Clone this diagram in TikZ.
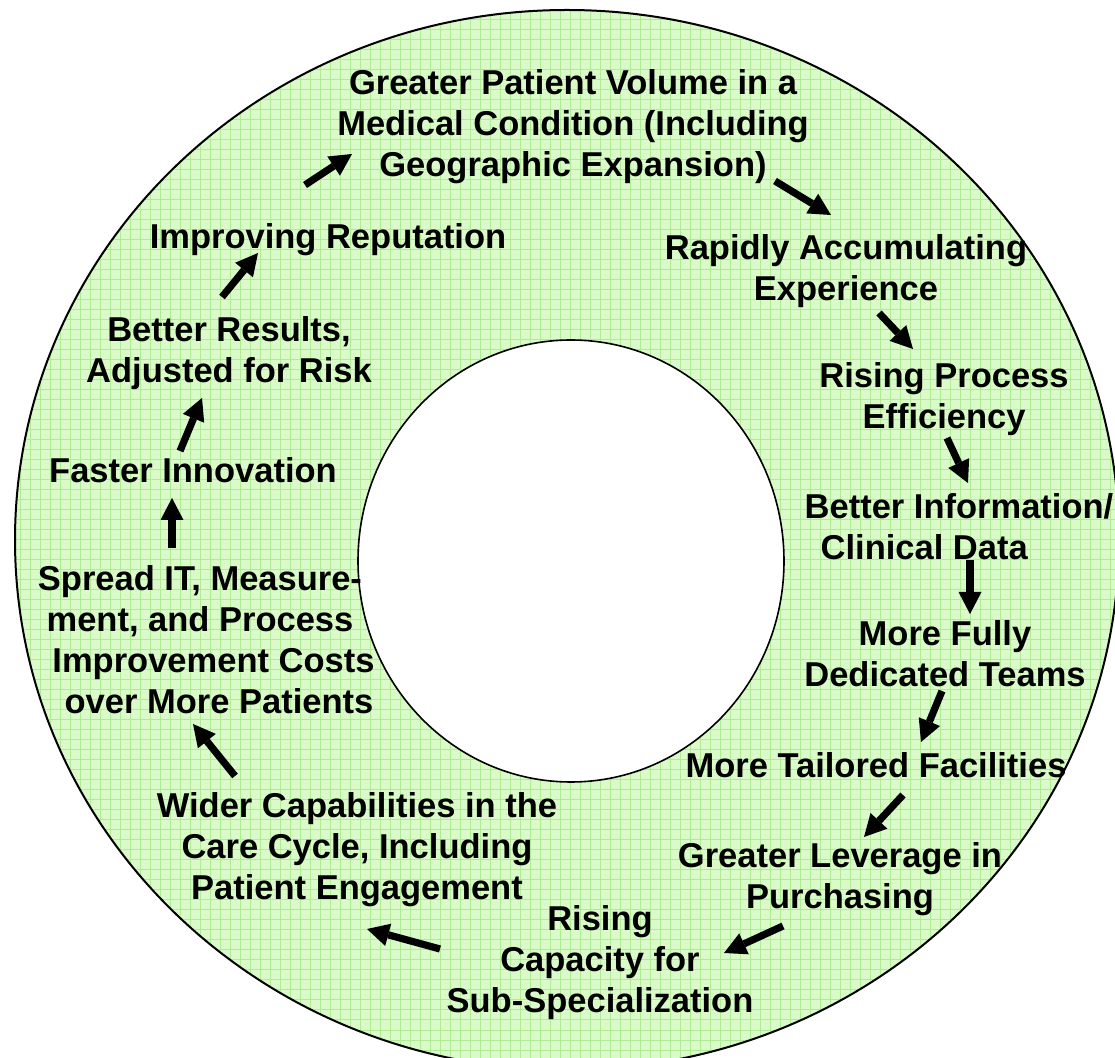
\documentclass[tikz,border=0pt]{standalone}
\usepackage{fontspec}
\setmainfont{Liberation Sans}
\usetikzlibrary{arrows.meta}
\definecolor{ringbg}{RGB}{218,250,202}
\definecolor{ringgrid}{RGB}{176,236,148}
\begin{document}
\begin{tikzpicture}[x=0.5pt,y=-0.5pt,
	txt/.style={shape=rectangle,inner sep=0pt,align=center,font=\fontsize{17.25}{20.5}\selectfont\bfseries},
	flow/.style={line width=3.6pt,-{Triangle[length=11pt,width=11.5pt,line width=0pt]}}]
	\clip (0,0) rectangle (1115,1058);
	\begin{scope}
		\clip (567,540) ellipse [x radius=276pt,y radius=265pt];
		\fill[ringbg] (0,0) rectangle (1115,1058);
		\draw[ringgrid,line width=0.5pt] (0,0) grid[step=5pt] (1115,1058);
	\end{scope}
	\draw[line width=1pt] (567,540) ellipse [x radius=276pt,y radius=265pt];
	\filldraw[fill=white,line width=0.8pt] (571,561) ellipse [x radius=106.5pt,y radius=110.5pt];
	\node[txt](a) at (573,127) {Greater Patient Volume in a\\Medical Condition (Including\\Geographic Expansion)};
	\node[txt](b) at (846,271) {Rapidly Accumulating\\Experience};
	\node[txt](c) at (944,399) {Rising Process\\Efficiency};
	\node[txt,align=left](d) at (959,527) {Better Information/\\\hspace*{8pt}Clinical Data};
	\node[txt](e) at (945,654) {More Fully\\Dedicated Teams};
	\node[txt](f) at (876,765) {More Tailored Facilities};
	\node[txt](g) at (840,879) {Greater Leverage in\\Purchasing};
	\node[txt](h) at (600,963) {Rising\\Capacity for\\Sub-Specialization};
	\node[txt](i) at (357,850) {Wider Capabilities in the\\Care Cycle, Including\\Patient Engagement};
	\node[txt](j) at (200,640) {Spread IT, Measure-\\ment, and Process\\\hspace*{13.5pt}Improvement Costs\\\hspace*{19pt}over More Patients};
	\node[txt](k) at (193,470) {Faster Innovation};
	\node[txt](l) at (229,353) {Better Results,\\Adjusted for Risk};
	\node[txt](m) at (328,240) {Improving Reputation};
	\coordinate (s1) at (305,185);
	\coordinate (t1) at (352,154);
	\coordinate (s2) at (775,181);
	\coordinate (t2) at (831,215);
	\coordinate (s3) at (879,313);
	\coordinate (t3) at (913,349);
	\coordinate (s4) at (947,438);
	\coordinate (t4) at (968,483);
	\coordinate (s5) at (970,560);
	\coordinate (t5) at (970,614);
	\coordinate (s6) at (942,691);
	\coordinate (t6) at (921,742);
	\coordinate (s7) at (903,795);
	\coordinate (t7) at (864,837);
	\coordinate (s8) at (783,926);
	\coordinate (t8) at (724,953);
	\coordinate (s9) at (440,949);
	\coordinate (t9) at (367,929);
	\coordinate (s10) at (235,776);
	\coordinate (t10) at (193,724);
	\coordinate (s11) at (172,548);
	\coordinate (t11) at (172,498);
	\coordinate (s12) at (180,451);
	\coordinate (t12) at (202,398);
	\coordinate (s13) at (222,297);
	\coordinate (t13) at (258,253);
	\draw[flow] (s1) -- (t1);
	\draw[flow] (s2) -- (t2);
	\draw[flow] (s3) -- (t3);
	\draw[flow] (s4) -- (t4);
	\draw[flow] (s5) -- (t5);
	\draw[flow] (s6) -- (t6);
	\draw[flow] (s7) -- (t7);
	\draw[flow] (s8) -- (t8);
	\draw[flow] (s9) -- (t9);
	\draw[flow] (s10) -- (t10);
	\draw[flow] (s11) -- (t11);
	\draw[flow] (s12) -- (t12);
	\draw[flow] (s13) -- (t13);
\end{tikzpicture}
\end{document}
